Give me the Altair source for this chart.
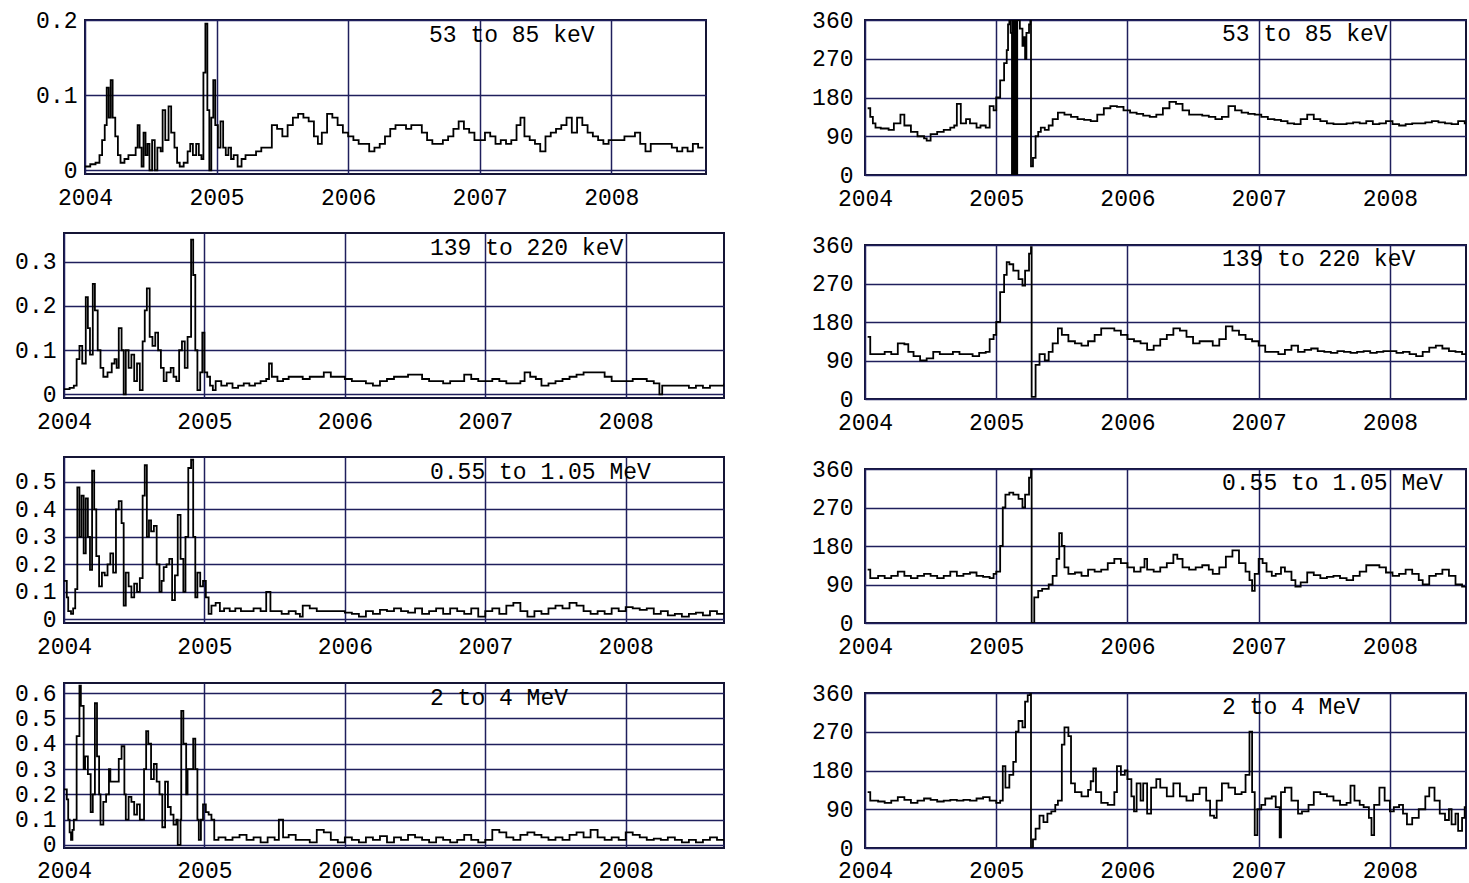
import altair as alt
import pandas as pd

YEARS = [2004, 2005, 2006, 2007, 2008]
LABELS = ["53 to 85 keV", "139 to 220 keV", "0.55 to 1.05 MeV", "2 to 4 MeV"]

# ---------------- left column: anisotropy amplitude ----------------
L1_T = [2004.00, 2004.04, 2004.08, 2004.11, 2004.13, 2004.15, 2004.165, 2004.18, 2004.195, 2004.21,
        2004.23, 2004.25, 2004.27, 2004.30, 2004.33, 2004.36, 2004.385, 2004.40, 2004.415, 2004.43,
        2004.445, 2004.46, 2004.475, 2004.49, 2004.51, 2004.53, 2004.55, 2004.575, 2004.59, 2004.61,
        2004.635, 2004.655, 2004.68, 2004.70, 2004.72, 2004.75, 2004.78, 2004.80, 2004.82, 2004.845,
        2004.865, 2004.885, 2004.90, 2004.915, 2004.93, 2004.945, 2004.96, 2004.975, 2004.99, 2005.01,
        2005.03, 2005.05, 2005.07, 2005.09, 2005.11, 2005.13, 2005.16, 2005.19, 2005.22, 2005.26,
        2005.30, 2005.34, 2005.38, 2005.42, 2005.46, 2005.50, 2005.54, 2005.58, 2005.62, 2005.66,
        2005.70, 2005.74, 2005.77, 2005.80, 2005.84, 2005.88, 2005.92, 2005.96, 2006.00, 2006.04,
        2006.08, 2006.12, 2006.16, 2006.20, 2006.24, 2006.28, 2006.32, 2006.36, 2006.40, 2006.44,
        2006.48, 2006.52, 2006.56, 2006.60, 2006.64, 2006.68, 2006.72, 2006.76, 2006.80, 2006.84,
        2006.88, 2006.92, 2006.96, 2007.00, 2007.04, 2007.08, 2007.12, 2007.16, 2007.20, 2007.24,
        2007.28, 2007.31, 2007.34, 2007.38, 2007.42, 2007.46, 2007.50, 2007.54, 2007.58, 2007.62,
        2007.66, 2007.70, 2007.74, 2007.78, 2007.82, 2007.86, 2007.90, 2007.94, 2007.98, 2008.02,
        2008.06, 2008.10, 2008.14, 2008.18, 2008.22, 2008.26, 2008.30, 2008.34, 2008.38, 2008.42,
        2008.46, 2008.50, 2008.54, 2008.58, 2008.62, 2008.66, 2008.70]
L1_V = [0.005, 0.008, 0.010, 0.020, 0.040, 0.060, 0.110, 0.070, 0.120, 0.070,
        0.045, 0.020, 0.010, 0.015, 0.020, 0.020, 0.030, 0.060, 0.030, 0.005,
        0.050, 0.020, 0.035, 0.000, 0.040, 0.000, 0.030, 0.025, 0.080, 0.040,
        0.085, 0.050, 0.030, 0.010, 0.005, 0.010, 0.025, 0.035, 0.020, 0.035,
        0.020, 0.015, 0.130, 0.195, 0.080, 0.000, 0.070, 0.120, 0.060, 0.030,
        0.065, 0.030, 0.020, 0.030, 0.015, 0.020, 0.005, 0.015, 0.020, 0.020,
        0.025, 0.030, 0.030, 0.060, 0.055, 0.045, 0.060, 0.070, 0.075, 0.070,
        0.065, 0.045, 0.035, 0.050, 0.075, 0.070, 0.060, 0.050, 0.045, 0.040,
        0.035, 0.035, 0.025, 0.030, 0.035, 0.045, 0.055, 0.060, 0.060, 0.055,
        0.060, 0.060, 0.050, 0.040, 0.035, 0.035, 0.040, 0.045, 0.055, 0.065,
        0.055, 0.050, 0.040, 0.040, 0.050, 0.045, 0.035, 0.040, 0.035, 0.040,
        0.060, 0.070, 0.045, 0.040, 0.035, 0.025, 0.045, 0.050, 0.055, 0.060,
        0.070, 0.050, 0.070, 0.060, 0.050, 0.045, 0.040, 0.035, 0.040, 0.040,
        0.040, 0.045, 0.045, 0.050, 0.035, 0.025, 0.035, 0.035, 0.035, 0.035,
        0.030, 0.025, 0.030, 0.025, 0.035, 0.030, 0.030]

L2_T = [2004.00, 2004.04, 2004.07, 2004.09, 2004.11, 2004.13, 2004.155, 2004.17, 2004.185, 2004.205,
        2004.22, 2004.24, 2004.26, 2004.28, 2004.31, 2004.34, 2004.36, 2004.375, 2004.39, 2004.41,
        2004.425, 2004.44, 2004.46, 2004.48, 2004.50, 2004.52, 2004.54, 2004.56, 2004.575, 2004.59,
        2004.61, 2004.63, 2004.65, 2004.67, 2004.69, 2004.71, 2004.73, 2004.76, 2004.78, 2004.80,
        2004.82, 2004.84, 2004.86, 2004.88, 2004.905, 2004.92, 2004.935, 2004.95, 2004.97, 2004.985,
        2005.00, 2005.02, 2005.04, 2005.06, 2005.08, 2005.12, 2005.16, 2005.20, 2005.24, 2005.28,
        2005.32, 2005.36, 2005.40, 2005.44, 2005.46, 2005.48, 2005.52, 2005.56, 2005.60, 2005.65,
        2005.70, 2005.75, 2005.80, 2005.85, 2005.90, 2005.95, 2006.00, 2006.05, 2006.10, 2006.15,
        2006.20, 2006.25, 2006.30, 2006.35, 2006.40, 2006.45, 2006.50, 2006.55, 2006.60, 2006.65,
        2006.70, 2006.75, 2006.80, 2006.85, 2006.90, 2006.95, 2007.00, 2007.05, 2007.10, 2007.15,
        2007.20, 2007.25, 2007.28, 2007.32, 2007.36, 2007.40, 2007.45, 2007.50, 2007.55, 2007.60,
        2007.65, 2007.70, 2007.75, 2007.80, 2007.85, 2007.90, 2007.95, 2008.00, 2008.05, 2008.10,
        2008.15, 2008.20, 2008.24, 2008.26, 2008.30, 2008.35, 2008.40, 2008.45, 2008.50, 2008.55,
        2008.60, 2008.65, 2008.70]
L2_V = [0.012, 0.015, 0.020, 0.080, 0.110, 0.070, 0.220, 0.150, 0.090, 0.250,
        0.190, 0.100, 0.060, 0.040, 0.050, 0.070, 0.080, 0.060, 0.150, 0.100,
        0.000, 0.100, 0.060, 0.090, 0.030, 0.070, 0.010, 0.120, 0.190, 0.240,
        0.130, 0.110, 0.140, 0.100, 0.060, 0.030, 0.050, 0.060, 0.040, 0.030,
        0.100, 0.120, 0.060, 0.130, 0.350, 0.270, 0.100, 0.010, 0.050, 0.140,
        0.050, 0.040, 0.020, 0.010, 0.030, 0.020, 0.025, 0.015, 0.020, 0.025,
        0.020, 0.025, 0.030, 0.035, 0.070, 0.040, 0.030, 0.035, 0.040, 0.040,
        0.035, 0.040, 0.040, 0.050, 0.040, 0.040, 0.035, 0.030, 0.030, 0.025,
        0.020, 0.030, 0.035, 0.040, 0.040, 0.045, 0.045, 0.035, 0.030, 0.030,
        0.025, 0.030, 0.030, 0.045, 0.035, 0.030, 0.030, 0.035, 0.030, 0.025,
        0.025, 0.030, 0.050, 0.040, 0.035, 0.020, 0.025, 0.030, 0.035, 0.040,
        0.045, 0.050, 0.050, 0.050, 0.040, 0.030, 0.030, 0.030, 0.035, 0.035,
        0.030, 0.025, 0.000, 0.020, 0.020, 0.020, 0.020, 0.015, 0.020, 0.015,
        0.020, 0.020, 0.025]

L3_T = [2004.00, 2004.02, 2004.03, 2004.05, 2004.065, 2004.08, 2004.095, 2004.11, 2004.125, 2004.14,
        2004.155, 2004.17, 2004.185, 2004.20, 2004.215, 2004.23, 2004.25, 2004.27, 2004.29, 2004.31,
        2004.33, 2004.35, 2004.37, 2004.39, 2004.41, 2004.425, 2004.44, 2004.46, 2004.48, 2004.50,
        2004.52, 2004.54, 2004.56, 2004.575, 2004.59, 2004.605, 2004.62, 2004.64, 2004.66, 2004.68,
        2004.695, 2004.71, 2004.73, 2004.75, 2004.77, 2004.79, 2004.81, 2004.83, 2004.85, 2004.865,
        2004.885, 2004.905, 2004.92, 2004.935, 2004.95, 2004.97, 2004.99, 2005.01, 2005.03, 2005.05,
        2005.08, 2005.11, 2005.14, 2005.18, 2005.22, 2005.26, 2005.30, 2005.35, 2005.40, 2005.44,
        2005.47, 2005.50, 2005.55, 2005.60, 2005.65, 2005.68, 2005.70, 2005.75, 2005.80, 2005.85,
        2005.90, 2005.95, 2006.00, 2006.05, 2006.10, 2006.15, 2006.20, 2006.25, 2006.30, 2006.35,
        2006.40, 2006.45, 2006.50, 2006.55, 2006.60, 2006.65, 2006.70, 2006.75, 2006.80, 2006.85,
        2006.90, 2006.95, 2007.00, 2007.05, 2007.10, 2007.15, 2007.20, 2007.25, 2007.30, 2007.35,
        2007.40, 2007.45, 2007.50, 2007.55, 2007.60, 2007.65, 2007.70, 2007.75, 2007.80, 2007.85,
        2007.90, 2007.95, 2008.00, 2008.05, 2008.10, 2008.15, 2008.20, 2008.25, 2008.30, 2008.35,
        2008.40, 2008.45, 2008.50, 2008.55, 2008.60, 2008.65, 2008.70]
L3_V = [0.14, 0.08, 0.03, 0.02, 0.04, 0.11, 0.48, 0.30, 0.45, 0.24,
        0.44, 0.30, 0.18, 0.54, 0.40, 0.23, 0.12, 0.17, 0.16, 0.20,
        0.24, 0.17, 0.40, 0.43, 0.35, 0.05, 0.17, 0.12, 0.08, 0.13,
        0.10, 0.15, 0.45, 0.56, 0.30, 0.36, 0.32, 0.34, 0.20, 0.10,
        0.14, 0.19, 0.20, 0.22, 0.07, 0.16, 0.38, 0.22, 0.10, 0.30,
        0.55, 0.58, 0.30, 0.08, 0.17, 0.12, 0.14, 0.08, 0.02, 0.05,
        0.06, 0.03, 0.04, 0.03, 0.04, 0.03, 0.03, 0.04, 0.03, 0.10,
        0.03, 0.03, 0.02, 0.03, 0.02, 0.01, 0.05, 0.04, 0.03, 0.03,
        0.03, 0.03, 0.025, 0.02, 0.01, 0.03, 0.02, 0.035, 0.03, 0.04,
        0.03, 0.025, 0.04, 0.02, 0.03, 0.04, 0.02, 0.04, 0.03, 0.02,
        0.04, 0.01, 0.03, 0.04, 0.02, 0.05, 0.06, 0.03, 0.01, 0.03,
        0.02, 0.04, 0.05, 0.04, 0.06, 0.05, 0.03, 0.02, 0.03, 0.02,
        0.04, 0.03, 0.045, 0.04, 0.035, 0.04, 0.02, 0.03, 0.015, 0.02,
        0.01, 0.02, 0.025, 0.015, 0.03, 0.02, 0.025]

L4_T = [2004.00, 2004.02, 2004.03, 2004.04, 2004.05, 2004.06, 2004.07, 2004.09, 2004.11, 2004.12,
        2004.14, 2004.15, 2004.17, 2004.19, 2004.205, 2004.22, 2004.235, 2004.25, 2004.26, 2004.28,
        2004.30, 2004.32, 2004.33, 2004.39, 2004.41, 2004.43, 2004.44, 2004.46, 2004.48, 2004.50,
        2004.52, 2004.54, 2004.57, 2004.585, 2004.60, 2004.62, 2004.64, 2004.66, 2004.68, 2004.70,
        2004.72, 2004.74, 2004.76, 2004.78, 2004.80, 2004.81, 2004.83, 2004.835, 2004.85, 2004.87,
        2004.88, 2004.92, 2004.935, 2004.95, 2004.96, 2004.975, 2004.99, 2005.01, 2005.03, 2005.05,
        2005.07, 2005.10, 2005.15, 2005.20, 2005.25, 2005.30, 2005.35, 2005.40, 2005.45, 2005.50,
        2005.53, 2005.56, 2005.60, 2005.65, 2005.70, 2005.75, 2005.80, 2005.85, 2005.90, 2005.95,
        2006.00, 2006.05, 2006.10, 2006.15, 2006.20, 2006.25, 2006.30, 2006.35, 2006.40, 2006.45,
        2006.50, 2006.55, 2006.60, 2006.65, 2006.70, 2006.75, 2006.80, 2006.85, 2006.90, 2006.95,
        2007.00, 2007.05, 2007.10, 2007.15, 2007.20, 2007.25, 2007.30, 2007.35, 2007.40, 2007.45,
        2007.50, 2007.55, 2007.60, 2007.65, 2007.70, 2007.75, 2007.80, 2007.85, 2007.90, 2007.95,
        2008.00, 2008.05, 2008.10, 2008.15, 2008.20, 2008.25, 2008.30, 2008.35, 2008.40, 2008.45,
        2008.50, 2008.55, 2008.60, 2008.65, 2008.70]
L4_V = [0.22, 0.18, 0.10, 0.05, 0.02, 0.06, 0.10, 0.43, 0.63, 0.55,
        0.30, 0.35, 0.28, 0.13, 0.20, 0.56, 0.35, 0.20, 0.08, 0.17,
        0.20, 0.30, 0.25, 0.34, 0.39, 0.20, 0.10, 0.19, 0.17, 0.12,
        0.16, 0.10, 0.30, 0.45, 0.40, 0.26, 0.32, 0.25, 0.20, 0.07,
        0.25, 0.15, 0.12, 0.08, 0.10, 0.00, 0.10, 0.53, 0.40, 0.20,
        0.30, 0.42, 0.30, 0.10, 0.02, 0.10, 0.16, 0.13, 0.12, 0.10,
        0.02, 0.03, 0.02, 0.03, 0.04, 0.02, 0.03, 0.01, 0.03, 0.02,
        0.10, 0.03, 0.04, 0.02, 0.02, 0.01, 0.06, 0.05, 0.02, 0.01,
        0.03, 0.02, 0.01, 0.03, 0.02, 0.035, 0.01, 0.03, 0.02, 0.04,
        0.03, 0.02, 0.01, 0.03, 0.02, 0.01, 0.02, 0.04, 0.02, 0.01,
        0.02, 0.06, 0.05, 0.03, 0.02, 0.04, 0.05, 0.04, 0.03, 0.02,
        0.03, 0.02, 0.04, 0.05, 0.03, 0.06, 0.03, 0.02, 0.03, 0.02,
        0.05, 0.04, 0.03, 0.02, 0.025, 0.02, 0.03, 0.02, 0.01, 0.02,
        0.01, 0.02, 0.03, 0.02, 0.015]

# ---------------- right column: anisotropy direction (degrees) ----------------
R1_T = [2004.02, 2004.04, 2004.06, 2004.08, 2004.12, 2004.18, 2004.22, 2004.27, 2004.30, 2004.35,
        2004.40, 2004.45, 2004.47, 2004.50, 2004.55, 2004.60, 2004.65, 2004.68, 2004.70, 2004.73,
        2004.77, 2004.80, 2004.85, 2004.88, 2004.92, 2004.95, 2004.98, 2005.00, 2005.03, 2005.06,
        2005.08, 2005.09, 2005.10, 2005.11, 2005.12, 2005.125, 2005.13, 2005.135, 2005.14, 2005.145,
        2005.15, 2005.16, 2005.18, 2005.20, 2005.21, 2005.22, 2005.23, 2005.25, 2005.26, 2005.265,
        2005.28, 2005.30, 2005.32, 2005.34, 2005.37, 2005.40, 2005.43, 2005.47, 2005.52, 2005.57,
        2005.62, 2005.67, 2005.72, 2005.77, 2005.82, 2005.87, 2005.92, 2005.97, 2006.02, 2006.07,
        2006.12, 2006.17, 2006.22, 2006.27, 2006.32, 2006.37, 2006.42, 2006.47, 2006.52, 2006.57,
        2006.62, 2006.67, 2006.72, 2006.77, 2006.82, 2006.87, 2006.92, 2006.97, 2007.02, 2007.07,
        2007.12, 2007.17, 2007.22, 2007.27, 2007.32, 2007.37, 2007.42, 2007.47, 2007.52, 2007.57,
        2007.62, 2007.67, 2007.72, 2007.77, 2007.82, 2007.87, 2007.92, 2007.97, 2008.02, 2008.07,
        2008.12, 2008.17, 2008.22, 2008.27, 2008.32, 2008.37, 2008.42, 2008.47, 2008.52, 2008.57,
        2008.60]
R1_V = [155, 135, 120, 110, 108, 105, 120, 140, 115, 100,
        90, 85, 80, 95, 100, 105, 110, 115, 165, 120,
        130, 120, 110, 115, 110, 160, 150, 180, 220, 260,
        290, 350, 360, 330, 0, 360, 0, 360, 0, 360,
        0, 360, 340, 300, 320, 270, 330, 350, 360, 20,
        40, 90, 100, 110, 105, 115, 130, 145, 140, 135,
        130, 128, 125, 140, 155, 160, 158, 150, 145, 142,
        138, 135, 140, 155, 170, 165, 150, 140, 140, 138,
        135, 130, 135, 160, 150, 145, 142, 140, 135, 130,
        128, 125, 120, 118, 130, 140, 130, 125, 120, 118,
        118, 120, 122, 120, 125, 118, 120, 125, 118, 115,
        118, 120, 120, 122, 125, 122, 120, 118, 125, 120,
        115]

R2_T = [2004.02, 2004.04, 2004.10, 2004.15, 2004.20, 2004.25, 2004.30, 2004.33, 2004.37, 2004.42,
        2004.47, 2004.52, 2004.57, 2004.62, 2004.67, 2004.72, 2004.77, 2004.82, 2004.87, 2004.92,
        2004.95, 2004.98, 2005.00, 2005.03, 2005.06, 2005.08, 2005.10, 2005.13, 2005.17, 2005.20,
        2005.22, 2005.25, 2005.265, 2005.27, 2005.30, 2005.33, 2005.37, 2005.40, 2005.43, 2005.47,
        2005.50, 2005.55, 2005.60, 2005.65, 2005.70, 2005.75, 2005.80, 2005.85, 2005.90, 2005.95,
        2006.00, 2006.05, 2006.10, 2006.15, 2006.20, 2006.25, 2006.30, 2006.35, 2006.40, 2006.45,
        2006.50, 2006.55, 2006.60, 2006.65, 2006.70, 2006.75, 2006.80, 2006.85, 2006.90, 2006.95,
        2007.00, 2007.05, 2007.10, 2007.15, 2007.20, 2007.25, 2007.30, 2007.35, 2007.40, 2007.45,
        2007.50, 2007.55, 2007.60, 2007.65, 2007.70, 2007.75, 2007.80, 2007.85, 2007.90, 2007.95,
        2008.00, 2008.05, 2008.10, 2008.15, 2008.20, 2008.25, 2008.30, 2008.35, 2008.40, 2008.45,
        2008.50, 2008.55, 2008.60]
R2_V = [145, 105, 105, 110, 105, 130, 128, 110, 100, 90,
        95, 110, 105, 105, 110, 105, 105, 100, 108, 110,
        140, 150, 180, 250, 290, 320, 315, 300, 280, 265,
        300, 340, 355, 5, 80, 105, 90, 110, 130, 165,
        150, 135, 130, 125, 135, 150, 165, 165, 160, 150,
        140, 135, 130, 115, 125, 140, 150, 165, 160, 145,
        130, 135, 135, 125, 140, 170, 160, 150, 140, 135,
        125, 110, 110, 105, 115, 125, 110, 115, 118, 112,
        110, 108, 112, 110, 108, 110, 112, 108, 110, 112,
        112, 108, 110, 105, 100, 110, 120, 125, 118, 112,
        110, 105, 100]

R3_T = [2004.02, 2004.04, 2004.10, 2004.15, 2004.20, 2004.25, 2004.30, 2004.35, 2004.40, 2004.45,
        2004.50, 2004.55, 2004.60, 2004.65, 2004.70, 2004.75, 2004.80, 2004.85, 2004.90, 2004.95,
        2004.98, 2005.00, 2005.03, 2005.05, 2005.07, 2005.10, 2005.13, 2005.17, 2005.20, 2005.22,
        2005.25, 2005.265, 2005.27, 2005.29, 2005.32, 2005.35, 2005.40, 2005.43, 2005.46, 2005.48,
        2005.50, 2005.52, 2005.55, 2005.60, 2005.65, 2005.70, 2005.75, 2005.80, 2005.85, 2005.90,
        2005.95, 2006.00, 2006.05, 2006.10, 2006.13, 2006.15, 2006.20, 2006.25, 2006.30, 2006.35,
        2006.38, 2006.42, 2006.47, 2006.52, 2006.57, 2006.62, 2006.65, 2006.70, 2006.75, 2006.80,
        2006.85, 2006.90, 2006.93, 2006.95, 2006.97, 2007.00, 2007.03, 2007.06, 2007.10, 2007.13,
        2007.17, 2007.20, 2007.25, 2007.28, 2007.32, 2007.37, 2007.42, 2007.47, 2007.52, 2007.57,
        2007.62, 2007.67, 2007.72, 2007.77, 2007.82, 2007.87, 2007.92, 2007.97, 2008.02, 2008.07,
        2008.12, 2008.17, 2008.22, 2008.25, 2008.30, 2008.35, 2008.40, 2008.45, 2008.50, 2008.55,
        2008.60]
R3_V = [125, 105, 110, 105, 110, 120, 110, 105, 110, 115,
        110, 105, 110, 120, 110, 115, 118, 110, 108, 105,
        115, 120, 180, 270, 300, 305, 300, 290, 270, 300,
        340, 360, 0, 60, 75, 80, 90, 110, 150, 210,
        180, 130, 115, 118, 110, 125, 120, 125, 140, 150,
        140, 130, 120, 130, 150, 125, 120, 130, 140, 160,
        150, 130, 125, 130, 135, 125, 115, 130, 155, 170,
        140, 120, 100, 75, 115, 150, 140, 120, 110, 115,
        130, 120, 100, 85, 95, 118, 112, 105, 108, 110,
        105, 100, 110, 120, 135, 135, 130, 118, 110, 115,
        125, 115, 100, 90, 110, 115, 125, 110, 90, 85,
        78]

R4_T = [2004.02, 2004.04, 2004.10, 2004.15, 2004.20, 2004.25, 2004.30, 2004.35, 2004.40, 2004.45,
        2004.50, 2004.55, 2004.60, 2004.65, 2004.70, 2004.75, 2004.80, 2004.85, 2004.90, 2004.95,
        2005.00, 2005.03, 2005.05, 2005.07, 2005.10, 2005.13, 2005.15, 2005.17, 2005.20, 2005.22,
        2005.24, 2005.26, 2005.265, 2005.28, 2005.30, 2005.33, 2005.36, 2005.39, 2005.42, 2005.45,
        2005.47, 2005.50, 2005.52, 2005.55, 2005.57, 2005.60, 2005.65, 2005.70, 2005.72, 2005.74,
        2005.76, 2005.80, 2005.85, 2005.90, 2005.92, 2005.95, 2005.98, 2006.00, 2006.03, 2006.05,
        2006.07, 2006.10, 2006.12, 2006.15, 2006.18, 2006.22, 2006.25, 2006.30, 2006.35, 2006.40,
        2006.45, 2006.50, 2006.55, 2006.60, 2006.63, 2006.66, 2006.68, 2006.72, 2006.77, 2006.82,
        2006.87, 2006.90, 2006.93, 2006.95, 2006.97, 2006.99, 2007.02, 2007.05, 2007.10, 2007.13,
        2007.16, 2007.17, 2007.20, 2007.25, 2007.30, 2007.33, 2007.38, 2007.42, 2007.47, 2007.52,
        2007.57, 2007.62, 2007.67, 2007.70, 2007.73, 2007.77, 2007.80, 2007.84, 2007.86, 2007.88,
        2007.92, 2007.96, 2008.00, 2008.03, 2008.07, 2008.10, 2008.13, 2008.17, 2008.22, 2008.27,
        2008.30, 2008.34, 2008.38, 2008.42, 2008.45, 2008.47, 2008.50, 2008.52, 2008.55, 2008.57,
        2008.60]
R4_V = [130, 110, 108, 105, 110, 118, 112, 105, 110, 115,
        112, 108, 110, 112, 110, 112, 110, 115, 118, 110,
        105, 110, 190, 140, 170, 200, 270, 295, 280, 340,
        355, 360, 0, 20, 45, 75, 60, 80, 85, 100,
        110, 240, 280, 260, 150, 130, 120, 135, 155, 185,
        130, 105, 100, 130, 190, 170, 180, 160, 120, 85,
        150, 110, 150, 80, 140, 160, 140, 120, 150, 120,
        110, 125, 140, 110, 75, 70, 110, 150, 140, 125,
        130, 170, 270, 130, 30, 90, 100, 115, 120, 95,
        25, 130, 140, 110, 80, 85, 100, 130, 125, 120,
        110, 100, 105, 145, 110, 100, 95, 70, 30, 100,
        140, 110, 85, 95, 100, 80, 55, 70, 90, 120,
        140, 110, 80, 65, 90, 55, 80, 40, 70, 95,
        60]

LEFT_TICKS = [[0, 0.1, 0.2], [0, 0.1, 0.2, 0.3], [0, 0.1, 0.2, 0.3, 0.4, 0.5],
              [0, 0.1, 0.2, 0.3, 0.4, 0.5, 0.6]]
LEFT_MAX = [0.2, 0.365, 0.59, 0.64]
LEFT_MIN = [-0.005, -0.008, -0.013, -0.012]
RIGHT_TICKS = [0, 90, 180, 270, 360]

FONT = "Liberation Mono"
FS = 23
GRID = "#1f1f5c"


def panel(t, v, label, ydom, yticks, yfmt, xmax, w, h, tx, ty, lpad, xpad):
    df = pd.DataFrame({"t": t, "v": v})
    x = alt.X("t:Q", scale=alt.Scale(domain=[2004, xmax], nice=False, zero=False),
              axis=alt.Axis(values=YEARS, format="d", title=None, labelFlush=False,
                            labelOverlap=False, labelPadding=xpad))
    y = alt.Y("v:Q", scale=alt.Scale(domain=ydom, nice=False, zero=False),
              axis=alt.Axis(values=yticks, format=yfmt, title=None, labelFlush=False,
                            labelOverlap=False, labelPadding=lpad))
    line = alt.Chart(df).mark_line(color="black", strokeWidth=1.8,
                                   interpolate="step-after", clip=True).encode(x=x, y=y)
    txt = alt.Chart(pd.DataFrame({"s": [label]})).mark_text(
        align="left", baseline="middle", font=FONT, fontSize=FS, color="black"
    ).encode(text="s:N", x=alt.value(tx), y=alt.value(ty))
    return alt.layer(line, txt).properties(width=w, height=h)


def spacer(w, h):
    return alt.Chart(pd.DataFrame({"a": [0]})).mark_point(opacity=0, size=1).encode(
        x=alt.X("a:Q", axis=None), y=alt.Y("a:Q", axis=None)
    ).properties(width=w, height=h, view=alt.ViewBackground(stroke="transparent"))


left_data = [(L1_T, L1_V), (L2_T, L2_V), (L3_T, L3_V), (L4_T, L4_V)]
right_data = [(R1_T, R1_V), (R2_T, R2_V), (R3_T, R3_V), (R4_T, R4_V)]
left_h = [154, 165, 166, 165]
right_h = [155, 154, 154, 155]
x_pad = [12, 12, 12, 11]

left_panels = []
for i, (t, v) in enumerate(left_data):
    w = 621 if i == 0 else 660
    tx = 344 if i == 0 else 366
    left_panels.append(panel(t, v, LABELS[i], [LEFT_MIN[i], LEFT_MAX[i]], LEFT_TICKS[i], ".1~f",
                             2008.72 if i == 0 else 2008.70, w, left_h[i], tx, 15, 8, x_pad[i]))

right_panels = []
for i, (t, v) in enumerate(right_data):
    right_panels.append(panel(t, v, LABELS[i], [0, 360], RIGHT_TICKS, "d",
                              2008.58, 601, right_h[i], 357, 14, 12, x_pad[i]))

# row 1 of the left column sits 20 px further right than the rows below it
row1 = alt.hconcat(spacer(1, 154), left_panels[0], spacing=-32)
left_col = alt.vconcat(row1, left_panels[1], left_panels[2], left_panels[3], spacing=22)
right_col = alt.vconcat(*right_panels, spacing=22)

chart = alt.hconcat(left_col, right_col, spacing=85).properties(
    padding={"left": 13, "top": 8, "right": 0, "bottom": 0},
    background="white",
).configure_axis(
    grid=True, gridColor=GRID, gridWidth=1.5, gridOpacity=1,
    domain=False, ticks=False,
    labelFont=FONT, labelFontSize=FS, labelColor="black",
).configure_view(
    stroke="#151535", strokeWidth=2
)

chart.save("out.html", embed_options={"renderer": "svg", "actions": False})
